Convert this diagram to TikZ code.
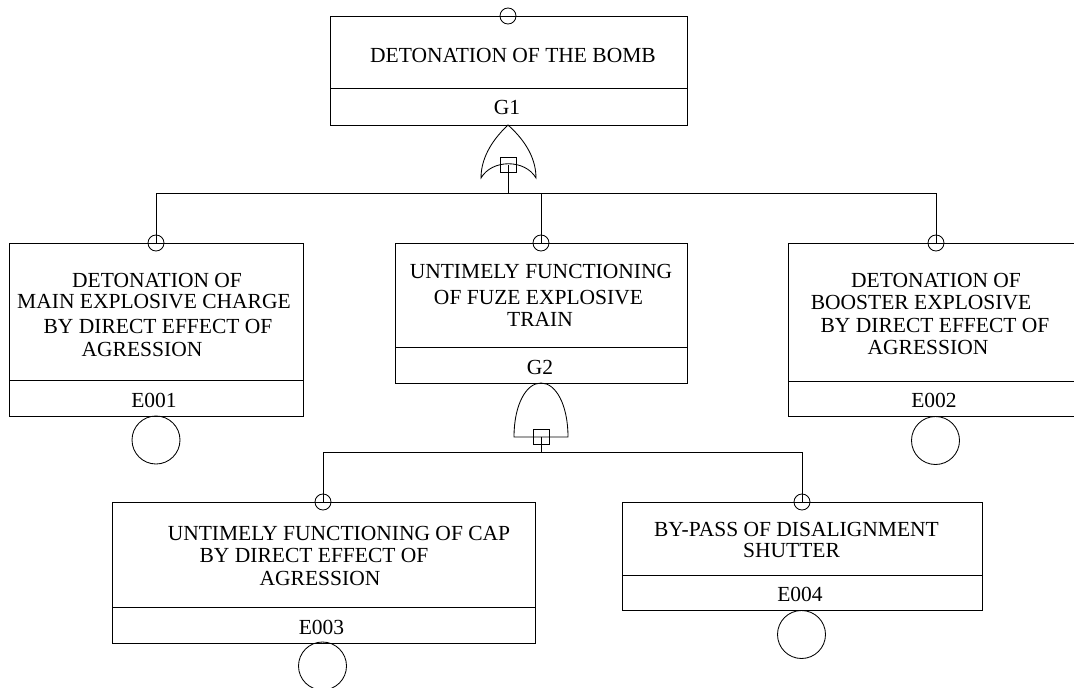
\documentclass[tikz,border=0pt]{standalone}
\usepackage{fontspec}
\setmainfont{Liberation Serif}
\begin{document}
\begin{tikzpicture}[x=1pt,y=-1pt,line width=0.85pt,
  evbox/.style={draw, rectangle, inner sep=0pt, anchor=north west},
  txt/.style={inner sep=0pt, font=\fontsize{21.5}{24}\selectfont},
  pin/.style={draw, circle, inner sep=0pt, minimum size=16pt},
  basic/.style={draw, circle, inner sep=0pt, minimum size=48pt},
  sq/.style={draw, rectangle, inner sep=0pt, minimum width=16pt, minimum height=15pt}]
\useasboundingbox (0,0) rectangle (1074,688);

% ---- boxes
\node[evbox, minimum width=357pt, minimum height=109pt] (top) at (330,16) {};
\draw (top.west |- 0,88) -- (top.east |- 0,88);
\node[evbox, minimum width=294pt, minimum height=173pt] (e1) at (9,243) {};
\draw (e1.west |- 0,380) -- (e1.east |- 0,380);
\node[evbox, minimum width=292pt, minimum height=140pt] (g2) at (395,243) {};
\draw (g2.west |- 0,347) -- (g2.east |- 0,347);
\node[evbox, minimum width=296pt, minimum height=173pt] (e2) at (788,243) {};
\draw (e2.west |- 0,381) -- (e2.east |- 0,381);
\node[evbox, minimum width=423pt, minimum height=141pt] (e3) at (112,502) {};
\draw (e3.west |- 0,607) -- (e3.east |- 0,607);
\node[evbox, minimum width=360pt, minimum height=108pt] (e4) at (622,502) {};
\draw (e4.west |- 0,575) -- (e4.east |- 0,575);

% ---- texts
\node[txt] (toptxt) at (513,55) {DETONATION OF THE BOMB};
\node[txt] (toplab) at (507,107) {G1};

\node[txt] (e1a) at (157,280) {DETONATION OF};
\node[txt] (e1b) at (154,302) {MAIN EXPLOSIVE CHARGE};
\node[txt] (e1c) at (158,326.5) {BY DIRECT EFFECT OF};
\node[txt] (e1d) at (142,349) {AGRESSION};
\node[txt] (e1lab) at (154,400) {E001};

\node[txt] (g2a) at (541,271) {UNTIMELY FUNCTIONING};
\node[txt] (g2b) at (538.5,297.5) {OF FUZE EXPLOSIVE};
\node[txt] (g2c) at (540,319.5) {TRAIN};
\node[txt] (g2lab) at (540,367) {G2};

\node[txt] (e2a) at (936,280.5) {DETONATION OF};
\node[txt] (e2b) at (921,302.5) {BOOSTER EXPLOSIVE};
\node[txt] (e2c) at (935,325) {BY DIRECT EFFECT OF};
\node[txt] (e2d) at (928,347.5) {AGRESSION};
\node[txt] (e2lab) at (934,400) {E002};

\node[txt] (e3a) at (339,533) {UNTIMELY FUNCTIONING OF CAP};
\node[txt] (e3b) at (314,555) {BY DIRECT EFFECT OF};
\node[txt] (e3c) at (320,578) {AGRESSION};
\node[txt] (e3lab) at (321.5,627) {E003};

\node[txt] (e4a) at (796.5,529.5) {BY-PASS OF DISALIGNMENT};
\node[txt] (e4b) at (791.5,550.5) {SHUTTER};
\node[txt] (e4lab) at (800,594.5) {E004};

% ---- transfer pins
\node[pin] (topin) at (508,16) {};
\node[pin] (e1in) at (156,243) {};
\node[pin] (g2in) at (541,243) {};
\node[pin] (e2in) at (936,243) {};
\node[pin] (e3in) at (323,502) {};
\node[pin] (e4in) at (802,502) {};

% ---- basic event circles
\node[basic] (e1b0) at (156,440) {};
\node[basic] (e2b0) at (935.5,440.5) {};
\node[basic] (e3b0) at (322.5,666) {};
\node[basic] (e4b0) at (801.5,634.5) {};

% ---- OR gate G1
\draw (508,125) .. controls (490,142) and (481,160) .. (481,178)
      .. controls (492,159) and (525,159) .. (536,178)
      .. controls (536,160) and (527,142) .. (508,125) -- cycle;
\node[sq] (g1sq) at (508.5,164.5) {};

% ---- AND gate G2
\draw (514,437) .. controls (514,405) and (526,383) .. (541,383)
      .. controls (556,383) and (568,405) .. (568,437) -- cycle;
\node[sq] (g2sq) at (541,436.5) {};

% ---- connectors
\coordinate (g1out) at (g1sq.center |- 0,193);
\draw (g1sq.center) -- (g1out);
\draw (g1out) -| (g2in.center);
\draw (g1out) -| (e1in.center);
\draw (g1out) -| (e2in.center);

\coordinate (g2out) at (g2sq.center |- 0,452);
\draw (g2sq.center) -- (g2out);
\draw (g2out) -| (e3in.center);
\draw (g2out) -| (e4in.center);
\end{tikzpicture}
\end{document}
